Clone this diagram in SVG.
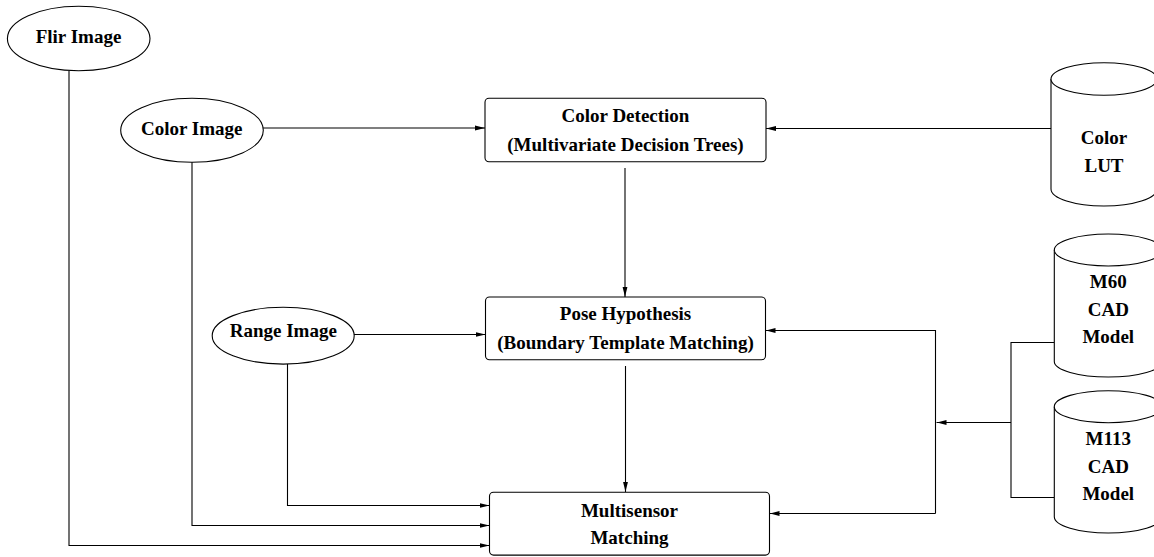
<svg xmlns="http://www.w3.org/2000/svg" width="1154" height="557" viewBox="0 0 1154 557">
<style>
.shape{fill:#fff;stroke:#000;stroke-width:1.1}
.t{font-family:"Liberation Serif","Times New Roman",serif;font-weight:bold;font-size:19px;text-anchor:middle;fill:#000}
.c{fill:none;stroke:#000;stroke-width:1.1}
.a{marker-end:url(#arr)}
</style>
<defs>
<marker id="arr" viewBox="0 0 10 6" refX="10" refY="3" markerWidth="10" markerHeight="6" orient="auto" markerUnits="userSpaceOnUse">
<path d="M0,0.6 L10,3 L0,5.4 z" fill="#000"/>
</marker>
</defs>
<rect width="1154" height="557" fill="#fff"/>
<g id="connectors">
<path class="c a" d="M263,128 H485"/>
<path class="c a" d="M1051,128.5 H766"/>
<path class="c a" d="M625,168 V297"/>
<path class="c a" d="M354,334.5 H485.5"/>
<path class="c a" d="M625.5,366 V492"/>
<path class="c a" d="M287.5,364 V505.5 H489.5"/>
<path class="c a" d="M192,162 V525.5 H489.5"/>
<path class="c a" d="M69,71 V545.5 H489.5"/>
<path class="c" d="M1054,342.5 H1011 V497.5 H1054"/>
<path class="c a" d="M1011,422.5 H936.5"/>
<path class="c a" d="M935.5,513.5 V330.5 H765.5"/>
<path class="c a" d="M935.5,513.5 H769.5"/>
</g>
<g id="flir">
<ellipse class="shape" cx="78.7" cy="38.5" rx="71.3" ry="32.3"/>
<text class="t" x="78.5" y="42.5">Flir Image</text>
</g>
<g id="color-image">
<ellipse class="shape" cx="192" cy="130.3" rx="71.3" ry="32"/>
<text class="t" x="191.7" y="135">Color Image</text>
</g>
<g id="range-image">
<ellipse class="shape" cx="283.2" cy="335.7" rx="71" ry="28.4"/>
<text class="t" x="283.3" y="337">Range Image</text>
</g>
<g id="color-detection">
<rect class="shape" x="485" y="98.3" width="281" height="63.4" rx="4"/>
<text class="t" x="625.5" y="121.7">Color Detection</text>
<text class="t" x="625.5" y="150.7">(Multivariate Decision Trees)</text>
</g>
<g id="pose-hypothesis">
<rect class="shape" x="485.5" y="297" width="280" height="62.8" rx="4"/>
<text class="t" x="625.5" y="320.4">Pose Hypothesis</text>
<text class="t" x="625.5" y="349.2">(Boundary Template Matching)</text>
</g>
<g id="multisensor">
<rect class="shape" x="489.5" y="492.3" width="280" height="62.8" rx="4"/>
<text class="t" x="629.5" y="516.7">Multisensor</text>
<text class="t" x="629.5" y="544">Matching</text>
</g>
<g id="color-lut">
<path class="shape" d="M1051,79 V189 A53,17 0 0 0 1157,189 V79"/>
<ellipse class="shape" cx="1104" cy="79" rx="53" ry="16.2"/>
<text class="t" x="1104" y="144.3">Color</text>
<text class="t" x="1104" y="172.3">LUT</text>
</g>
<g id="m60">
<path class="shape" d="M1054.3,250 V361.5 A54,15.5 0 0 0 1162.3,361.5 V250"/>
<ellipse class="shape" cx="1108.3" cy="250" rx="54" ry="16"/>
<text class="t" x="1108.3" y="288.3">M60</text>
<text class="t" x="1108.3" y="316">CAD</text>
<text class="t" x="1108.3" y="343.3">Model</text>
</g>
<g id="m113">
<path class="shape" d="M1054.3,406.7 V516.7 A54,16.3 0 0 0 1162.3,516.7 V406.7"/>
<ellipse class="shape" cx="1108.3" cy="406.7" rx="54" ry="16"/>
<text class="t" x="1108.3" y="445">M113</text>
<text class="t" x="1108.3" y="472.7">CAD</text>
<text class="t" x="1108.3" y="500">Model</text>
</g>
</svg>
